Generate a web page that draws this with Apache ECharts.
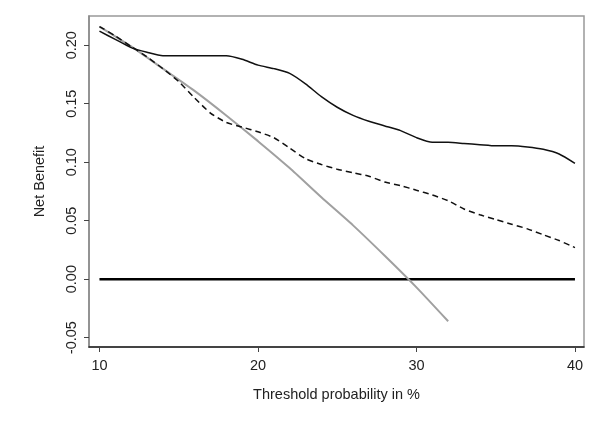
<!DOCTYPE html>
<html>
<head>
<meta charset="utf-8">
<script src="https://cdn.jsdelivr.net/npm/echarts@6/dist/echarts.min.js"></script>
<style>
  html, body { margin: 0; padding: 0; background: #fff; }
  #dca { width: 600px; height: 437px; }
</style>
</head>
<body>
<div id="dca"></div>
<script>
// threshold probability (%)
const thresholds = [10, 11, 12, 13, 14, 15, 16, 17, 18, 19, 20, 21, 22, 23, 24, 25,
  26, 27, 28, 29, 30, 31, 32, 33, 34, 35, 36, 37, 38, 39, 40];
// model (solid black)
const modelNB = [0.212, 0.205, 0.198, 0.194, 0.191, 0.191, 0.191, 0.191, 0.191, 0.188,
  0.183, 0.180, 0.176, 0.167, 0.156, 0.147, 0.140, 0.135, 0.131, 0.127, 0.121, 0.117,
  0.117, 0.116, 0.115, 0.114, 0.114, 0.113, 0.111, 0.107, 0.099];
// comparison model (dashed)
const altNB = [0.216, 0.208, 0.199, 0.190, 0.180, 0.169, 0.155, 0.142, 0.134, 0.130,
  0.126, 0.121, 0.112, 0.103, 0.098, 0.094, 0.091, 0.088, 0.083, 0.080, 0.076, 0.072,
  0.067, 0.060, 0.055, 0.051, 0.047, 0.043, 0.038, 0.033, 0.027];
// treat all (grey), only up to 32 %
const treatAllX = [10, 12, 14, 16, 18, 20, 22, 24, 26, 28, 30, 32];
const treatAllNB = [0.216, 0.199, 0.180, 0.161, 0.140, 0.118, 0.095, 0.070, 0.046, 0.020, -0.007, -0.036];
// treat none
const treatNoneX = [10, 40];
const treatNoneNB = [0, 0];

const xTicks = [10, 20, 30, 40];
const yTicks = [-0.05, 0, 0.05, 0.1, 0.15, 0.2];

function pairs(xs, ys) {
  return xs.map((x, i) => [x, ys[i]]);
}

const font = "'Liberation Sans', Arial, sans-serif";
const chart = echarts.init(document.getElementById('dca'));
const option = {
  animation: false,
  grid: {
    left: 89, right: 16, top: 16, bottom: 90,
    show: true,
    borderColor: '#999',
    borderWidth: 1.5
  },
  xAxis: {
    type: 'value',
    min: 9.34,
    max: 40.57,
    name: 'Threshold probability in %',
    nameLocation: 'middle',
    nameGap: 40,
    nameTextStyle: { fontFamily: font, fontSize: 14.5, color: '#222' },
    axisLine: { show: true, onZero: false, lineStyle: { color: '#222', width: 1.5 } },
    axisTick: { show: true, length: 5, customValues: xTicks, lineStyle: { color: '#444' } },
    axisLabel: {
      customValues: xTicks,
      margin: 11,
      fontFamily: font, fontSize: 14.5, color: '#222',
      formatter: v => String(Math.round(v))
    },
    splitLine: { show: false }
  },
  yAxis: {
    type: 'value',
    min: -0.058,
    max: 0.225,
    name: 'Net Benefit',
    nameLocation: 'middle',
    nameGap: 42,
    nameRotate: 90,
    nameTextStyle: { fontFamily: font, fontSize: 14.5, color: '#222' },
    axisLine: { show: true, onZero: false, lineStyle: { color: '#888', width: 1.5 } },
    axisTick: { show: true, length: 5, customValues: yTicks, lineStyle: { color: '#444' } },
    axisLabel: {
      customValues: yTicks,
      rotate: 90,
      margin: 10,
      fontFamily: font, fontSize: 14.5, color: '#222',
      formatter: v => v.toFixed(2)
    },
    splitLine: { show: false }
  },
  series: [
    {
      name: 'Treat none',
      type: 'line',
      data: pairs(treatNoneX, treatNoneNB),
      showSymbol: false,
      lineStyle: { color: '#000', width: 2.5 }
    },
    {
      name: 'Treat all',
      type: 'line',
      data: pairs(treatAllX, treatAllNB),
      showSymbol: false,
      smooth: 0.2,
      lineStyle: { color: '#a0a0a0', width: 2 }
    },
    {
      name: 'Alternative',
      type: 'line',
      data: pairs(thresholds, altNB),
      showSymbol: false,
      smooth: 0.2,
      lineStyle: { color: '#111', width: 1.5, type: [6, 4] }
    },
    {
      name: 'Model',
      type: 'line',
      data: pairs(thresholds, modelNB),
      showSymbol: false,
      smooth: 0.2,
      lineStyle: { color: '#111', width: 1.5 }
    }
  ]
};
chart.setOption(option);
</script>
</body>
</html>
